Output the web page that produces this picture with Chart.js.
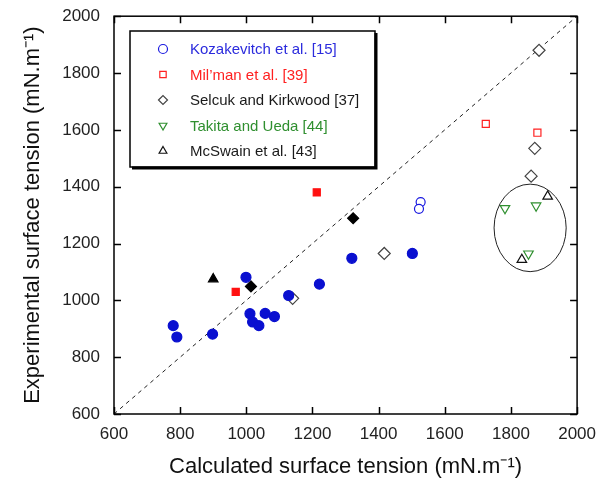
<!DOCTYPE html>
<html>
<head>
<meta charset="utf-8">
<script src="https://cdn.jsdelivr.net/npm/chart.js@4.4.0/dist/chart.umd.min.js"></script>
<style>
  html, body { margin: 0; padding: 0; background: #fff; }
  #wrap { width: 598px; height: 484px; }
</style>
</head>
<body>
<div id="wrap"><canvas id="grafico" width="598" height="484"></canvas></div>
<script>
// valores (calculado, experimental)
const kozFilledX = [779, 790, 898, 999, 1011, 1019, 1038, 1057, 1085, 1128, 1221, 1319, 1502];
const kozFilledY = [911, 871, 881, 1081, 953, 924, 911, 954, 943, 1017, 1057, 1148, 1165];
const kozOpenX = [1527, 1522];
const kozOpenY = [1346, 1322];
const milFilledX = [1213, 968];
const milFilledY = [1380, 1030];
const milOpenX = [1724, 1880];
const milOpenY = [1621, 1590];
const selFilledX = [1323, 1014];
const selFilledY = [1289, 1049];
const selOpenX = [1417, 1140, 1885, 1872, 1861];
const selOpenY = [1165, 1007, 1880, 1535, 1437];
const takX = [1782, 1876, 1853];
const takY = [1324, 1333, 1164];
const mcsFilledX = [900];
const mcsFilledY = [1075];
const mcsOpenX = [1911, 1833];
const mcsOpenY = [1366, 1143];
const diagX = [600, 2000];
const diagY = [600, 2000];
const tickValues = [600, 800, 1000, 1200, 1400, 1600, 1800, 2000];
// elipse: centro e raios em unidades dos eixos
const ellipseCenter = [1858, 1255];
const ellipseRadius = [109, 154];

const legendItems = [
    { label: 'Kozakevitch et al. [15]', color: '#2b2bdd', ds: 1 },
    { label: 'Mil\u2019man et al. [39]', color: '#ff2020', ds: 3 },
    { label: 'Selcuk and Kirkwood [37]', color: '#1a1a1a', ds: 5 },
    { label: 'Takita and Ueda [44]', color: '#2f8f2f', ds: 6 },
    { label: 'McSwain et al. [43]', color: '#1a1a1a', ds: 8 }
];

const pts = (xs, ys) => xs.map((x, i) => ({ x: x, y: ys[i] }));

function serie(xs, ys, style, fill, border, r, rot) {
    return {
        data: pts(xs, ys),
        showLine: false,
        pointStyle: style,
        pointRadius: r,
        pointHoverRadius: r,
        pointBackgroundColor: fill,
        pointBorderColor: border,
        pointBorderWidth: 1.2,
        pointRotation: rot || 0
    };
}

const insideTicks = {
    id: 'insideTicks',
    afterDraw(chart) {
        const ctx = chart.ctx;
        const a = chart.chartArea;
        const xs = chart.scales.x, ys = chart.scales.y;
        ctx.save();
        ctx.strokeStyle = '#000';
        ctx.lineWidth = 1.5;
        ctx.beginPath();
        tickValues.forEach(v => {
            const px = Math.round(xs.getPixelForValue(v)) + 0.5;
            ctx.moveTo(px, a.bottom); ctx.lineTo(px, a.bottom - 7);
            ctx.moveTo(px, a.top); ctx.lineTo(px, a.top + 7);
            const py = Math.round(ys.getPixelForValue(v)) + 0.5;
            ctx.moveTo(a.left, py); ctx.lineTo(a.left + 7, py);
            ctx.moveTo(a.right, py); ctx.lineTo(a.right - 7, py);
        });
        ctx.stroke();
        ctx.lineWidth = 1.5;
        ctx.strokeRect(a.left, a.top, a.right - a.left, a.bottom - a.top);

        // elipse
        const cx = xs.getPixelForValue(ellipseCenter[0]);
        const cy = ys.getPixelForValue(ellipseCenter[1]);
        const rx = Math.abs(xs.getPixelForValue(ellipseCenter[0] + ellipseRadius[0]) - cx);
        const ry = Math.abs(ys.getPixelForValue(ellipseCenter[1] + ellipseRadius[1]) - cy);
        ctx.lineWidth = 1;
        ctx.strokeStyle = '#222';
        ctx.beginPath();
        ctx.ellipse(cx, cy, rx, ry, 0, 0, Math.PI * 2);
        ctx.stroke();

        // legenda
        const lx = 130, ly = 31, lw = 245, lh = 136;
        ctx.fillStyle = '#fff';
        ctx.fillRect(lx, ly, lw, lh);
        ctx.strokeStyle = '#000';
        ctx.lineWidth = 1.5;
        ctx.strokeRect(lx, ly, lw, lh);
        ctx.lineWidth = 3;
        ctx.beginPath();
        ctx.moveTo(lx + lw + 1, ly + 2); ctx.lineTo(lx + lw + 1, ly + lh + 1); ctx.lineTo(lx + 2, ly + lh + 1);
        ctx.stroke();
        ctx.font = '15px Arial, "Liberation Sans", sans-serif';
        ctx.textBaseline = 'middle';
        legendItems.forEach((it, i) => {
            const y = 49 + i * 25.5;
            const ds = chart.data.datasets[it.ds];
            ctx.fillStyle = '#fff';
            ctx.strokeStyle = ds.pointBorderColor;
            ctx.lineWidth = 1.2;
            Chart.helpers.drawPoint(ctx, {
                pointStyle: ds.pointStyle,
                radius: 4.5,
                borderWidth: 1.2,
                rotation: ds.pointRotation
            }, 163, y);
            ctx.fillStyle = it.color;
            ctx.fillText(it.label, 190, y + 1);
        });
        ctx.restore();
    }
};

const ctx = document.getElementById('grafico').getContext('2d');
window.grafico = new Chart(ctx, {
    type: 'scatter',
    data: {
        datasets: [
            serie(kozFilledX, kozFilledY, 'circle', '#0a10d0', '#0a10d0', 5),
            serie(kozOpenX, kozOpenY, 'circle', '#fff', '#1a1ae0', 4.5),
            serie(milFilledX, milFilledY, 'rect', '#ff1010', '#ff1010', 5),
            serie(milOpenX, milOpenY, 'rect', '#fff', '#ff2020', 5),
            serie(selFilledX, selFilledY, 'rectRot', '#000', '#000', 5.5),
            serie(selOpenX, selOpenY, 'rectRot', '#fff', '#444', 6),
            serie(takX, takY, 'triangle', '#fff', '#2f8f2f', 5.5, 180),
            serie(mcsFilledX, mcsFilledY, 'triangle', '#000', '#000', 5.5),
            serie(mcsOpenX, mcsOpenY, 'triangle', '#fff', '#111', 5.5),
            {
                type: 'line',
                data: pts(diagX, diagY),
                borderColor: '#222',
                borderWidth: 1,
                borderDash: [4, 4],
                pointRadius: 0,
                fill: false
            }
        ]
    },
    options: {
        responsive: false,
        animation: false,
        events: [],
        layout: { padding: { top: 12, right: 17, left: 16, bottom: 0 } },
        plugins: { legend: { display: false }, tooltip: { enabled: false } },
        scales: {
            x: {
                type: 'linear', min: 600, max: 2000,
                afterBuildTicks: s => { s.ticks = tickValues.map(v => ({ value: v })); },
                afterFit: s => { s.height = 70; },
                grid: { display: false },
                border: { display: false },
                ticks: { color: '#222', font: { size: 17, family: 'Arial' }, padding: 2, callback: v => String(v) },
                title: { display: true, text: 'Calculated surface tension (mN.m\u207B\u00B9)', color: '#111', font: { size: 22, family: 'Arial' }, padding: { top: 4 } }
            },
            y: {
                type: 'linear', min: 600, max: 2000,
                afterBuildTicks: s => { s.ticks = tickValues.map(v => ({ value: v })); },
                afterFit: s => { s.width = 98; },
                grid: { display: false },
                border: { display: false },
                ticks: { color: '#222', font: { size: 17, family: 'Arial' }, padding: 6, callback: v => String(v) },
                title: { display: true, text: 'Experimental surface tension (mN.m\u207B\u00B9)', color: '#111', font: { size: 22, family: 'Arial' }, padding: { bottom: 4 } }
            }
        }
    },
    plugins: [insideTicks]
});
</script>
</body>
</html>
